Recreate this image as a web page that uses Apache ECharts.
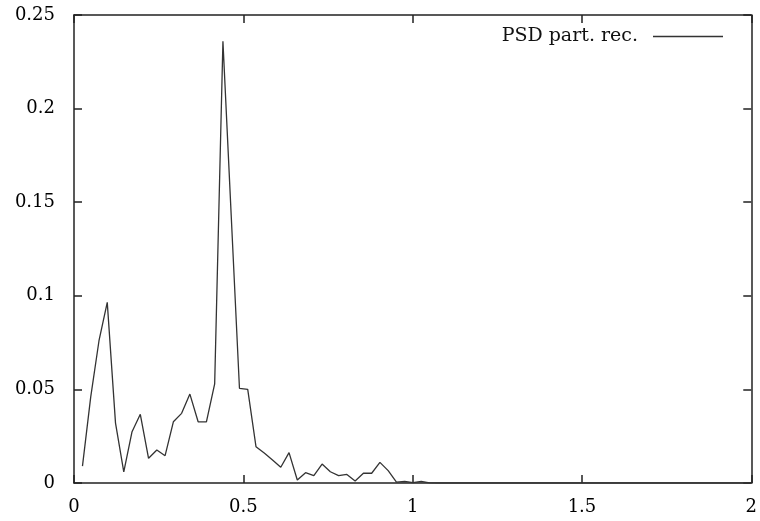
<!DOCTYPE html>
<html>
<head>
<meta charset="utf-8">
<script src="https://cdn.jsdelivr.net/npm/echarts@6/dist/echarts.min.js"></script>
<style>
html,body{margin:0;padding:0;background:#fff;}
#chart{width:760px;height:521px;}
</style>
</head>
<body>
<div id="chart"></div>
<script>
const seriesName = 'PSD part. rec.';
const xTicks = [0, 0.5, 1, 1.5, 2];
const yTicks = [0, 0.05, 0.1, 0.15, 0.2, 0.25];
const freq = [
  0.0250, 0.0494, 0.0738, 0.0982, 0.1226, 0.1470, 0.1714, 0.1958, 0.2202, 0.2446,
  0.2690, 0.2934, 0.3178, 0.3422, 0.3666, 0.3910, 0.4154, 0.4398, 0.4642, 0.4886,
  0.5130, 0.5374, 0.5618, 0.5862, 0.6106, 0.6350, 0.6594, 0.6838, 0.7082, 0.7326,
  0.7570, 0.7814, 0.8058, 0.8302, 0.8546, 0.8790, 0.9034, 0.9278, 0.9522, 0.9766,
  1.0010, 1.0254, 1.0498, 1.0742, 1.0986, 1.1230, 1.1474, 1.1718, 1.1962, 1.2206,
  1.2450, 1.2694, 1.2938, 1.3182, 1.3426, 1.3670, 1.3914, 1.4158, 1.4402, 1.4646,
  1.4890, 1.5134, 1.5378, 1.5622, 1.5866, 1.6110, 1.6354, 1.6598, 1.6842, 1.7086,
  1.7330, 1.7574, 1.7818, 1.8062, 1.8306, 1.8550, 1.8794, 1.9038, 1.9282, 1.9526,
  1.9770, 2.0000
];
const psd = [
  0.0090, 0.0460, 0.0760, 0.0965, 0.0320, 0.0060, 0.0274, 0.0367, 0.0132, 0.0176,
  0.0146, 0.0327, 0.0372, 0.0475, 0.0327, 0.0327, 0.0530, 0.2360, 0.1430, 0.0506,
  0.0500, 0.0194, 0.0160, 0.0123, 0.0084, 0.0162, 0.0016, 0.0055, 0.0039, 0.0101,
  0.0060, 0.0039, 0.0046, 0.0011, 0.0052, 0.0052, 0.0110, 0.0066, 0.0005, 0.0008,
  0.0002, 0.0008, 0.0001, 0.0000, 0.0000, 0.0000, 0.0000, 0.0000, 0.0000, 0.0000,
  0.0000, 0.0000, 0.0000, 0.0000, 0.0000, 0.0000, 0.0000, 0.0000, 0.0000, 0.0000,
  0.0000, 0.0000, 0.0000, 0.0000, 0.0000, 0.0000, 0.0000, 0.0000, 0.0000, 0.0000,
  0.0000, 0.0000, 0.0000, 0.0000, 0.0000, 0.0000, 0.0000, 0.0000, 0.0000, 0.0000,
  0.0000, 0.0000
];

const FONT = 'DejaVu Serif';
const axisColor = '#222';
const chart = echarts.init(document.getElementById('chart'), null, {renderer: 'canvas'});

function fmt(v) { return String(Math.round(v * 1000) / 1000); }

const common = {
  type: 'value',
  splitLine: {show: false},
  axisLine: {show: true, onZero: false, lineStyle: {color: axisColor, width: 1.5}},
  axisTick: {show: true, inside: true, length: 8, lineStyle: {color: axisColor, width: 1.5}},
};

chart.setOption({
  animation: false,
  backgroundColor: '#fff',
  grid: {left: 74, right: 4, top: 15, bottom: 38, containLabel: false},
  legend: {
    show: true,
    right: 32,
    top: 22,
    align: 'right',
    icon: 'rect',
    itemWidth: 70,
    itemHeight: 1.3,
    textStyle: {fontFamily: FONT, fontSize: 19, color: '#111', padding: [0, 10, 0, 0]},
    data: [{name: seriesName, itemStyle: {color: '#333'}}]
  },
  xAxis: [
    Object.assign({}, common, {
      position: 'bottom', min: xTicks[0], max: xTicks[xTicks.length - 1], interval: 0.5,
      axisLabel: {show: true, margin: 15, fontFamily: FONT, fontSize: 18, color: '#000', formatter: fmt}
    }),
    Object.assign({}, common, {
      position: 'top', min: xTicks[0], max: xTicks[xTicks.length - 1], interval: 0.5,
      axisLabel: {show: false}
    })
  ],
  yAxis: [
    Object.assign({}, common, {
      position: 'left', min: yTicks[0], max: yTicks[yTicks.length - 1], interval: 0.05,
      axisLabel: {show: true, margin: 19, fontFamily: FONT, fontSize: 18, color: '#000', formatter: fmt}
    }),
    Object.assign({}, common, {
      position: 'right', min: yTicks[0], max: yTicks[yTicks.length - 1], interval: 0.05,
      axisLabel: {show: false}
    })
  ],
  series: [{
    name: seriesName,
    type: 'line',
    xAxisIndex: 0,
    yAxisIndex: 0,
    data: freq.map((f, i) => [f, psd[i]]),
    symbol: 'none',
    lineStyle: {color: '#333', width: 1.3},
    itemStyle: {color: '#333'}
  }]
});
</script>
</body>
</html>
